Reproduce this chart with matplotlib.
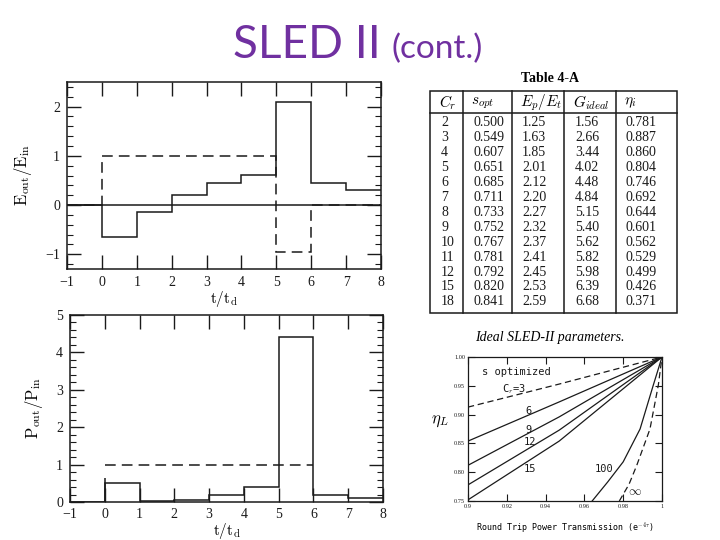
import numpy as np
import matplotlib.pyplot as plt
from matplotlib.patches import Rectangle

plt.rcParams['font.family'] = ['Liberation Serif', 'DejaVu Serif']
plt.rcParams['mathtext.fontset'] = 'cm'

# --- top left: field amplitude vs t/td ---
t_edges = [-1, 0, 1, 2, 3, 4, 5, 6, 7, 8]
e_out = [0, -0.65, -0.15, 0.2, 0.45, 0.62, 2.1, 0.45, 0.3]
e_in_edges = [-1, 0, 5, 6, 8]
e_in = [0, 1.0, -0.95, 0]

# --- bottom left: power vs t/td ---
p_out = [0, 0.5, 0.02, 0.05, 0.2, 0.4, 4.4, 0.2, 0.1]
p_in_edges = [0, 6]
p_in = [1.0]

# --- Table 4-A ---
col_heads = [r'$C_r$', r'$s_{opt}$', r'$E_p/E_t$', r'$G_{ideal}$', r'$\eta_i$']
cr = ['2', '3', '4', '5', '6', '7', '8', '9', '10', '11', '12', '15', '18']
s_opt = ['0.500', '0.549', '0.607', '0.651', '0.685', '0.711', '0.733',
         '0.752', '0.767', '0.781', '0.792', '0.820', '0.841']
ep_et = ['1.25', '1.63', '1.85', '2.01', '2.12', '2.20', '2.27',
         '2.32', '2.37', '2.41', '2.45', '2.53', '2.59']
g_ideal = ['1.56', '2.66', '3.44', '4.02', '4.48', '4.84', '5.15',
           '5.40', '5.62', '5.82', '5.98', '6.39', '6.68']
eta_i = ['0.781', '0.887', '0.860', '0.804', '0.746', '0.692', '0.644',
         '0.601', '0.562', '0.529', '0.499', '0.426', '0.371']

# --- bottom right: efficiency vs round trip transmission ---
T_lin = [0.9, 0.947, 1.0]
eta_3 = [0.913, 0.953, 1.0]
eta_6 = [0.854, 0.922, 1.0]
eta_9 = [0.812, 0.896, 1.0]
eta_12 = [0.778, 0.873, 1.0]
eta_15 = [0.752, 0.854, 1.0]
T_100 = [0.964, 0.972, 0.980, 0.9887, 0.9955, 1.0]
eta_100 = [0.75, 0.783, 0.818, 0.875, 0.951, 1.0]
T_inf = [0.978, 0.983, 0.987, 0.9938, 0.9981, 1.0]
eta_inf = [0.75, 0.779, 0.812, 0.875, 0.951, 1.0]

ink = '#1a1a1a'
dash = (0, (7, 4))

fig = plt.figure(figsize=(7.2, 5.4), dpi=100)

# title
fig.text(233/720, 1 - 58/540, 'SLED II', fontsize=33, color='#7030A0',
         family='Lato', ha='left', va='baseline')
fig.text(392/720, 1 - 58/540, '(cont.)', fontsize=24, color='#7030A0',
         family='Lato', ha='left', va='baseline')


def style_left(ax):
    ax.tick_params(which='both', direction='in', top=True, right=True,
                   labelsize=10, pad=5, colors=ink)
    ax.tick_params(which='major', length=10, width=1)
    ax.tick_params(which='minor', length=4, width=0.8)
    ax.set_xlim(-1, 8)
    ax.set_xticks(np.arange(-1, 9))
    for s in ax.spines.values():
        s.set_color(ink)
        s.set_linewidth(1.1)


ax1 = fig.add_axes([67/720, 1 - 269/540, 314/720, 187/540])
ax1.stairs(e_out, t_edges, baseline=None, color=ink, lw=1.1)
ax1.axhline(0, color=ink, lw=1.1)
ax1.stairs(e_in, e_in_edges, baseline=None, color=ink, lw=1.1, linestyle=dash)
ax1.set_ylim(-1.3, 2.5)
ax1.set_yticks([-1, 0, 1, 2])
ax1.set_yticks(np.arange(-1.2, 2.5, 0.2), minor=True)
style_left(ax1)
ax1.set_xlabel(r'$\mathrm{t/t_d}$', fontsize=11, labelpad=0)
ax1.set_ylabel(r'$\mathrm{E_{out}/E_{in}}$', fontsize=12, labelpad=8)

ax2 = fig.add_axes([70/720, 1 - 502/540, 313/720, 187/540])
ax2.stairs(p_out, t_edges, baseline=None, color=ink, lw=1.1)
ax2.vlines(0, 0, 0.65, color=ink, lw=1.1)
ax2.stairs(p_in, p_in_edges, baseline=None, color=ink, lw=1.1, linestyle=dash)
ax2.set_ylim(0, 5)
ax2.set_yticks(np.arange(0, 6))
ax2.set_yticks(np.arange(0, 5, 0.2), minor=True)
style_left(ax2)
ax2.tick_params(axis='x', pad=4)
ax2.set_xlabel(r'$\mathrm{t/t_d}$', fontsize=11, labelpad=0)
ax2.set_ylabel(r'$\mathrm{P_{out}/P_{in}}$', fontsize=12, labelpad=8)

# table drawn in pixel coordinates
axt = fig.add_axes([0, 0, 1, 1], zorder=-1)
axt.set_xlim(0, 720)
axt.set_ylim(540, 0)
axt.axis('off')
axt.text(550, 78, 'Table 4-A', fontsize=10, weight='bold', ha='center', va='center')
axt.add_patch(Rectangle((430, 91), 247, 222, fill=False, ec=ink, lw=1.1))
axt.plot([430, 677], [113, 113], color=ink, lw=1.1)
for xs in [463, 512, 564, 616]:
    axt.plot([xs, xs], [91, 313], color=ink, lw=1.1)
col_x = [441, 473, 522, 575, 626]
for cx, h in zip(col_x, col_heads):
    axt.text(cx - 2, 103, h, fontsize=11, ha='left', va='center')
cols = [cr, s_opt, ep_et, g_ideal, eta_i]
for i in range(len(cr)):
    yy = 123 + i * 14.9
    for cx, col in zip(col_x, cols):
        axt.text(cx, yy, col[i], fontsize=10, ha='left', va='center', color=ink)
axt.text(550, 337, 'Ideal SLED-II parameters.', fontsize=10, style='italic',
         ha='center', va='center')

# efficiency plot
ax3 = fig.add_axes([468/720, 1 - 501/540, 194/720, 144/540])
ax3.plot(T_lin, eta_3, color=ink, lw=0.9, linestyle=(0, (5, 3)))
for eta in [eta_6, eta_9, eta_12, eta_15]:
    ax3.plot(T_lin, eta, color=ink, lw=0.9)
ax3.plot(T_100, eta_100, color=ink, lw=0.9)
ax3.plot(T_inf, eta_inf, color=ink, lw=0.9, linestyle=(0, (5, 3)))
ax3.set_xlim(0.9, 1.0)
ax3.set_ylim(0.75, 1.0)
ax3.set_xticks([0.9, 0.92, 0.94, 0.96, 0.98, 1.0])
ax3.set_xticklabels(['0.9', '0.92', '0.94', '0.96', '0.98', '1'])
ax3.set_yticks([0.75, 0.8, 0.85, 0.9, 0.95, 1.0])
ax3.set_yticklabels(['0.75', '0.80', '0.85', '0.90', '0.95', '1.00'])
ax3.tick_params(direction='in', top=True, right=True, labelsize=4.5,
                length=5, width=0.8, pad=2, colors=ink)
for s in ax3.spines.values():
    s.set_color(ink)
    s.set_linewidth(0.9)
lab = dict(fontsize=7.5, family='DejaVu Sans Mono', color=ink, ha='center', va='center')
ax3.text(0.925, 0.974, 's optimized', **lab)
ax3.text(0.9236, 0.944, r'C$_r$=3', **lab)
ax3.text(0.931, 0.906, '6', **lab)
ax3.text(0.931, 0.873, '9', **lab)
ax3.text(0.932, 0.852, '12', **lab)
ax3.text(0.932, 0.806, '15', **lab)
ax3.text(0.970, 0.805, '100', **lab)
ax3.text(0.986, 0.766, r'$\infty$', fontsize=9, color=ink, ha='center', va='center')
ax3.set_ylabel(r'$\eta_L$', fontsize=12, rotation=0, labelpad=10)
ax3.set_xlabel(r'Round Trip Power Transmission (e$^{-4\tau}$)', fontsize=6,
               family='DejaVu Sans Mono', labelpad=8)

fig.savefig('out.png', dpi=100)
